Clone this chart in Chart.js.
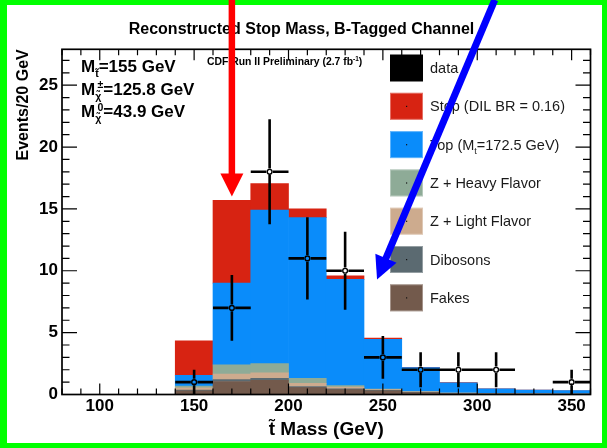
<!DOCTYPE html>
<html>
<head>
<meta charset="utf-8">
<script src="https://cdn.jsdelivr.net/npm/chart.js@4.4.1/dist/chart.umd.min.js"></script>
<style>
  html, body { margin: 0; padding: 0; background: #fff; }
  canvas { display: block; }
</style>
</head>
<body>
<canvas id="c" width="607" height="448"></canvas>
<script>
// bin centres (GeV), bins are 20 GeV wide
const binCenters = [150, 170, 190, 210, 230, 250, 270, 290, 310, 330, 350];
const BIN_WIDTH = 20;

// stacked backgrounds, bottom to top
const fakes    = [0.30, 1.05, 1.15, 0.55, 0.40, 0.30, 0.15, 0.08, 0.05, 0.03, 0.03];
const dibosons = [0.05, 0.15, 0.15, 0.10, 0.05, 0.03, 0.02, 0.01, 0.01, 0.01, 0.00];
const zLight   = [0.18, 0.45, 0.45, 0.25, 0.15, 0.07, 0.04, 0.02, 0.02, 0.01, 0.01];
const zHeavy   = [0.15, 0.75, 0.75, 0.40, 0.12, 0.03, 0.02, 0.01, 0.01, 0.00, 0.00];
const topQuark = [0.86, 6.60, 12.40, 13.00, 8.58, 4.03, 1.94, 0.83, 0.37, 0.30, 0.28];
const stopSig  = [2.80, 6.70, 2.15, 0.70, 0.30, 0.11, 0.03, 0.01, 0.00, 0.00, 0.00];

// data points and their errors
const dataCounts = [1, 7, 18, 11, 10, 3, 2, 2, 2, null, 1];
const dataErr    = [1, 2.65, 4.24, 3.32, 3.16, 1.73, 1.41, 1.41, 1.41, 0, 1];

const xTicks = [100, 150, 200, 250, 300, 350];
const yTicks = [0, 5, 10, 15, 20, 25];

const legendLabels = ['data', 'Stop (DIL BR = 0.16)', 'Top (M_{t}=172.5 GeV)',
  'Z + Heavy Flavor', 'Z + Light Flavor', 'Dibosons', 'Fakes'];
const massLines = ['M_{t̃}=155 GeV', 'M_{χ̃}^{±}=125.8 GeV', 'M_{χ̃}^{0}=43.9 GeV'];
const TITLE = 'Reconstructed Stop Mass, B-Tagged Channel';
const CDF_TEXT = 'CDF Run II Preliminary (2.7 fb^{-1})';

// hand-drawn arrows on the picture, in axis units
const arrows = [
  { from: [170, 31.9], to: [170, 16.0], color: '#ff0000', width: 6.5 },
  { from: [309.3, 31.9], to: [246.9, 9.3], color: '#0000ff', width: 7 }
];

const FONT = '"Liberation Sans", Arial, Helvetica, sans-serif';

function drawRich(ctx, str, x, y, size, weight, color) {
  const re = /([_^])\{([^}]*)\}|([^_^]+)/g;
  let m, cx = x, subX = null, lastSub = false;
  ctx.fillStyle = color;
  ctx.textAlign = 'left';
  ctx.textBaseline = 'alphabetic';
  while ((m = re.exec(str))) {
    if (m[3]) {
      ctx.font = `${weight} ${size}px ${FONT}`;
      ctx.fillText(m[3], cx, y);
      cx += ctx.measureText(m[3]).width;
      lastSub = false;
    } else {
      const s = size * 0.62;
      ctx.font = `${weight} ${s}px ${FONT}`;
      const w = ctx.measureText(m[2]).width;
      if (m[1] === '_') {
        ctx.fillText(m[2], cx, y + size * 0.32);
        subX = cx;
        cx += w;
        lastSub = true;
      } else {
        const sx = lastSub ? subX + w * 0.4 : cx;
        ctx.fillText(m[2], sx, y - size * 0.38);
        cx = Math.max(cx, sx + w);
        lastSub = false;
      }
    }
  }
}

const background = {
  id: 'background',
  beforeDraw(chart) {
    const ctx = chart.ctx;
    ctx.save();
    ctx.fillStyle = '#00ff00';
    ctx.fillRect(0, 0, chart.width, chart.height);
    ctx.fillStyle = '#ffffff';
    ctx.fillRect(7, 5, chart.width - 12, chart.height - 10);
    ctx.restore();
  }
};

const errorBars = {
  id: 'errorBars',
  afterDatasetsDraw(chart) {
    const { ctx, scales: { x, y } } = chart;
    const r = 3.3;
    ctx.save();
    ctx.strokeStyle = '#000';
    ctx.lineWidth = 2.6;
    ctx.beginPath();
    dataCounts.forEach((n, i) => {
      if (n === null) return;
      const px = x.getPixelForValue(binCenters[i]);
      const py = y.getPixelForValue(n);
      const x0 = x.getPixelForValue(binCenters[i] - BIN_WIDTH / 2);
      const x1 = x.getPixelForValue(binCenters[i] + BIN_WIDTH / 2);
      const yt = y.getPixelForValue(n + dataErr[i]);
      const yb = y.getPixelForValue(Math.max(0, n - dataErr[i]));
      ctx.moveTo(x0, py); ctx.lineTo(px - r, py);
      ctx.moveTo(px + r, py); ctx.lineTo(x1, py);
      ctx.moveTo(px, yt); ctx.lineTo(px, py - r);
      ctx.moveTo(px, py + r); ctx.lineTo(px, yb);
    });
    ctx.stroke();
    ctx.restore();
  }
};

const frame = {
  id: 'frame',
  afterDatasetsDraw(chart) {
    const { ctx, chartArea: a, scales: { x, y } } = chart;
    ctx.save();
    ctx.strokeStyle = '#000';
    ctx.lineWidth = 1.2;
    ctx.beginPath();
    for (let v = x.min; v <= x.max; v += 10) {
      const px = x.getPixelForValue(v);
      const len = xTicks.includes(v) ? 11 : 6;
      ctx.moveTo(px, a.bottom); ctx.lineTo(px, a.bottom - len);
      ctx.moveTo(px, a.top); ctx.lineTo(px, a.top + len);
    }
    for (let v = 0; v <= y.max; v += 1) {
      const py = y.getPixelForValue(v);
      const len = yTicks.includes(v) ? 15 : 7.5;
      ctx.moveTo(a.left, py); ctx.lineTo(a.left + len, py);
      ctx.moveTo(a.right, py); ctx.lineTo(a.right - len, py);
    }
    ctx.stroke();
    ctx.lineWidth = 1.7;
    ctx.strokeRect(a.left, a.top, a.right - a.left, a.bottom - a.top);
    ctx.restore();
  }
};

const texts = {
  id: 'texts',
  afterDatasetsDraw(chart) {
    const { ctx, chartArea: a } = chart;
    ctx.save();
    // title
    ctx.font = `bold 16px ${FONT}`;
    ctx.fillStyle = '#000';
    ctx.textAlign = 'center';
    ctx.textBaseline = 'middle';
    ctx.fillText(TITLE, chart.width / 2 - 2, 29.5);
    // preliminary label
    drawRich(ctx, CDF_TEXT, a.left + 145, a.top + 16, 10.4, 'bold', '#000');
    // mass values
    massLines.forEach((s, i) => drawRich(ctx, s, a.left + 19, a.top + 22.7 + i * 22.5, 17, 'bold', '#000'));
    // legend
    const order = ['data', 'Stop', 'Top', 'Z + Heavy Flavor', 'Z + Light Flavor', 'Dibosons', 'Fakes'];
    legendLabels.forEach((lab, i) => {
      const ds = chart.data.datasets.find(d => d.label === order[i]);
      const cy = a.top + 18.7 + i * 38.3;
      const bx = a.right - 200.5;
      ctx.fillStyle = i === 0 ? '#000' : ds.backgroundColor;
      ctx.fillRect(bx, cy - 13.5, 33, 27);
      if (i > 0) {
        ctx.strokeStyle = 'rgba(255,255,255,0.35)';
        ctx.lineWidth = 1;
        ctx.strokeRect(bx + 0.5, cy - 13, 32, 26);
        ctx.fillStyle = '#111';
        ctx.fillRect(bx + 16, cy - 0.5, 1.2, 1.2);
      }
      drawRich(ctx, lab, bx + 40, cy + 5, 14.5, 'normal', '#1a1a1a');
    });
    ctx.restore();
  }
};

const arrowLayer = {
  id: 'arrowLayer',
  afterDraw(chart) {
    const { ctx, scales: { x, y } } = chart;
    ctx.save();
    arrows.forEach(ar => {
      const x0 = x.getPixelForValue(ar.from[0]), y0 = y.getPixelForValue(ar.from[1]);
      const x1 = x.getPixelForValue(ar.to[0]), y1 = y.getPixelForValue(ar.to[1]);
      const len = Math.hypot(x1 - x0, y1 - y0);
      const ux = (x1 - x0) / len, uy = (y1 - y0) / len;
      const head = 23, half = 11.5;
      const bx = x1 - ux * head, by = y1 - uy * head;
      ctx.strokeStyle = ar.color;
      ctx.fillStyle = ar.color;
      ctx.lineWidth = ar.width;
      ctx.beginPath();
      ctx.moveTo(x0, y0);
      ctx.lineTo(bx + ux, by + uy);
      ctx.stroke();
      ctx.beginPath();
      ctx.moveTo(x1, y1);
      ctx.lineTo(bx - uy * half, by + ux * half);
      ctx.lineTo(bx + uy * half, by - ux * half);
      ctx.closePath();
      ctx.fill();
    });
    ctx.restore();
  }
};

function barSet(label, values, color) {
  return {
    type: 'bar', label, data: values, backgroundColor: color,
    borderWidth: 0, barPercentage: 1, categoryPercentage: 1, order: 1
  };
}

new Chart(document.getElementById('c'), {
  type: 'bar',
  data: {
    labels: binCenters,
    datasets: [
      {
        type: 'line', label: 'data', data: dataCounts, showLine: false, order: 0,
        pointRadius: 2.4, pointBorderWidth: 1.4, pointBorderColor: '#000',
        pointBackgroundColor: 'rgba(0,0,0,0)', pointHoverRadius: 2.4
      },
      barSet('Fakes', fakes, '#735a4c'),
      barSet('Dibosons', dibosons, '#5b6a71'),
      barSet('Z + Light Flavor', zLight, '#cdab8e'),
      barSet('Z + Heavy Flavor', zHeavy, '#8eab97'),
      barSet('Top', topQuark, '#0a8cfa'),
      barSet('Stop', stopSig, '#d72312')
    ]
  },
  options: {
    responsive: false,
    animation: false,
    layout: { padding: { top: 49.3, right: 16.5, left: 0, bottom: 0 } },
    plugins: { legend: { display: false }, tooltip: { enabled: false } },
    scales: {
      x: {
        type: 'linear', min: 80, max: 360, offset: false, stacked: true,
        grid: { display: false, drawTicks: false }, border: { display: false },
        ticks: {
          stepSize: 50, includeBounds: false, padding: 2, color: '#000',
          font: { family: FONT, size: 17, weight: 'bold' }
        },
        title: {
          display: true, text: 't̃ Mass (GeV)', color: '#000',
          font: { family: FONT, size: 19, weight: 'bold' }, padding: { top: 0, bottom: 6.6 }
        },
        afterFit: s => { s.height = 53.5; }
      },
      y: {
        min: 0, max: 27.9, stacked: true,
        grid: { display: false, drawTicks: false }, border: { display: false },
        ticks: {
          stepSize: 5, includeBounds: false, padding: 4, color: '#000',
          font: { family: FONT, size: 17, weight: 'bold' }
        },
        title: {
          display: true, text: 'Events/20 GeV', align: 'end', color: '#000',
          font: { family: FONT, size: 16, weight: 'bold' }, padding: { top: 13.5, bottom: 0 }
        },
        afterFit: s => { s.width = 62; }
      }
    }
  },
  plugins: [background, errorBars, frame, texts, arrowLayer]
});
</script>
</body>
</html>
